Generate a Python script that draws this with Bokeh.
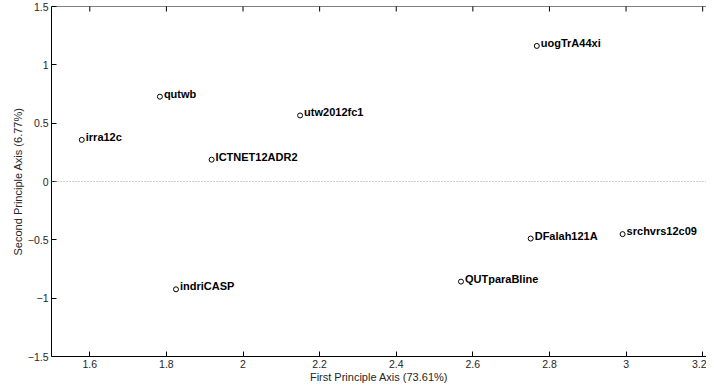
import math
from bokeh.plotting import figure
from bokeh.models import ColumnDataSource, Span, LinearAxis, FixedTicker, Range1d
from bokeh.core.properties import value
from bokeh.embed import file_html
from bokeh.resources import INLINE

names = ["irra12c", "qutwb", "ICTNET12ADR2", "utw2012fc1", "uogTrA44xi",
         "indriCASP", "QUTparaBline", "DFalah121A", "srchvrs12c09"]
pc1 = [1.579, 1.783, 1.918, 2.149, 2.767, 1.825, 2.569, 2.751, 2.991]
pc2 = [0.357, 0.727, 0.187, 0.566, 1.162, -0.924, -0.858, -0.489, -0.451]

x_ticks = [1.6, 1.8, 2.0, 2.2, 2.4, 2.6, 2.8, 3.0, 3.2]
x_tick_labels = ["1.6", "1.8", "2", "2.2", "2.4", "2.6", "2.8", "3", "3.2"]
y_ticks = [-1.5, -1.0, -0.5, 0.0, 0.5, 1.0, 1.5]
y_tick_labels = ["\u22121.5", "\u22121", "\u22120.5", "0", "0.5", "1", "1.5"]
x_title = "First Principle Axis (73.61%)"
y_title = "Second Principle Axis (6.77%)"

FONT = "Liberation Sans"
TXT = "#262626"

src = ColumnDataSource(dict(x=pc1, y=pc2, name=names))

y_lo, y_hi = y_ticks[0], y_ticks[-1]

p = figure(width=706, height=385, output_backend="svg", toolbar_location=None,
           x_range=Range1d(1.5, 3.21), y_range=Range1d(y_lo, y_hi),
           x_axis_location=None, y_axis_location=None,
           min_border_left=51, min_border_top=6, min_border_right=0, min_border_bottom=26)
p.grid.visible = False
p.outline_line_color = None
p.background_fill_color = "white"
p.border_fill_color = "white"

def style_axis(ax, ticks, labels):
    ax.ticker = FixedTicker(ticks=ticks)
    ax.major_label_overrides = {t: l for t, l in zip(ticks, labels)}
    ax.major_tick_in = 5
    ax.major_tick_out = 0
    ax.minor_tick_line_color = None
    ax.axis_line_color = "black"
    ax.axis_line_width = 1
    ax.major_tick_line_color = "black"
    ax.major_label_text_font = FONT
    ax.major_label_text_font_size = "10.5px"
    ax.major_label_text_color = TXT
    ax.axis_label_text_font = FONT
    ax.axis_label_text_font_size = "11px"
    ax.axis_label_text_font_style = "normal"
    ax.axis_label_text_color = TXT

xb = LinearAxis(axis_label=x_title)
style_axis(xb, x_ticks, x_tick_labels)
xb.major_label_standoff = 3
xb.axis_label_standoff = 0
p.add_layout(xb, "below")

yl = LinearAxis(axis_label=y_title)
style_axis(yl, y_ticks, y_tick_labels)
yl.major_label_standoff = 3
yl.axis_label_standoff = 1
p.add_layout(yl, "left")

# top border with inward ticks
p.add_layout(Span(location=y_hi, dimension="width", line_color="black", line_width=1))
p.scatter(x=x_ticks, y=[y_hi] * len(x_ticks), marker="dash", angle=math.pi / 2,
          size=10, line_color="black", line_width=1)

p.add_layout(Span(location=0, dimension="width", line_color="#a0a0a0",
                  line_dash="1 2", line_width=1))

p.scatter("x", "y", source=src, size=5, marker="circle",
          fill_color=None, line_color="black", line_width=1)
p.text("x", "y", text="name", source=src, x_offset=4, y_offset=-3,
       text_baseline="alphabetic", text_align="left",
       text_font=value(FONT), text_font_style="bold",
       text_font_size="11px", text_color="black")

open("out.html", "w").write(file_html(p, INLINE))
